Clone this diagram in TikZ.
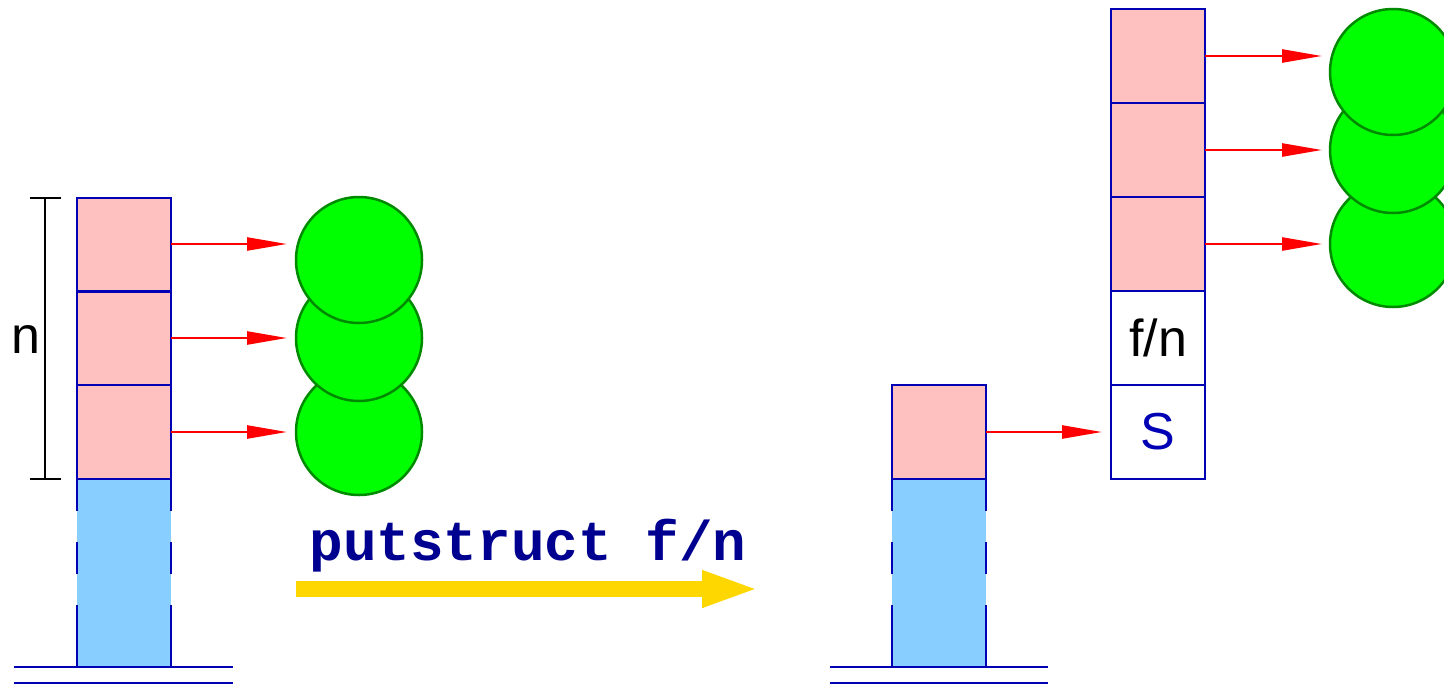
\documentclass[tikz,border=0pt]{standalone}
\usepackage{fontspec}
\setmainfont{Liberation Sans}
\newfontfamily\monob{Liberation Mono}
\usetikzlibrary{arrows.meta}
\definecolor{cellpink}{HTML}{FFC0C0}
\definecolor{cellblue}{HTML}{88CEFF}
\definecolor{strokeblue}{HTML}{0000B4}
\definecolor{ballgreen}{HTML}{00FF00}
\definecolor{balledge}{HTML}{008A00}
\definecolor{gold}{HTML}{FFD700}
\definecolor{navy}{HTML}{000090}
\tikzset{
  cell/.style={draw=strokeblue, line width=1.25pt, fill=cellpink, minimum width=47pt, minimum height=47pt, inner sep=0pt, outer sep=0pt, anchor=north west},
  wcell/.style={cell, fill=white},
  ball/.style={circle, draw=balledge, fill=ballgreen, line width=1.25pt, minimum size=63pt, inner sep=0pt},
  ptr/.style={draw=red, line width=1.2pt, -{Triangle[length=20pt,width=6.5pt]}},
  base/.style={draw=strokeblue, line width=1.25pt},
  side/.style={draw=strokeblue, line width=1.25pt},
  lbl/.style={font=\fontsize{26}{30}\selectfont, inner sep=0pt},
}
\begin{document}
\begin{tikzpicture}[x=0.5pt, y=-0.5pt]
\useasboundingbox (0,0) rectangle (1444,685);
% ---------- left stack ----------
\fill[cellblue] (77,479) rectangle (171,667);
\foreach \xx in {77,171}{
  \draw[side] (\xx,479) -- (\xx,511);
  \draw[side] (\xx,542) -- (\xx,574);
  \draw[side] (\xx,605) -- (\xx,667);
}
\draw[base] (77,667) -- (171,667);
\node[cell] (L1) at (77,198) {};
\node[cell] (L2) at (77,291.5) {};
\node[cell] (L3) at (77,385) {};
\draw[base] (14,667) -- (233,667);
\draw[base] (14,683) -- (233,683);
% bracket
\coordinate (bt) at (45,198);
\coordinate (bb) at (45,479);
\draw[line width=1.25pt] (bt) -- (bb);
\draw[line width=1.25pt] (30,198) -- (61,198);
\draw[line width=1.25pt] (30,479) -- (61,479);
\node[lbl] (nl) at (26,340) {n};
% balls
\node[ball] (B3) at (359,432) {};
\node[ball] (B2) at (359,338) {};
\node[ball] (B1) at (359,260) {};
\coordinate (t1) at (287,244);
\coordinate (t2) at (287,338);
\coordinate (t3) at (287,432);
\draw[ptr] (L1.east |- t1) -- (t1);
\draw[ptr] (L2.east |- t2) -- (t2);
\draw[ptr] (L3.east |- t3) -- (t3);
% ---------- transition ----------
\node[font=\fontsize{28}{30}\selectfont\monob\bfseries, text=navy, inner sep=0pt] (cmd) at (528,546) {putstruct f/n};
\coordinate (ya) at (296,589);
\coordinate (yb) at (760,589);
\draw[draw=gold, line width=8pt, -{Triangle[length=29pt,width=16.5pt]}] (ya) -- (yb);
% ---------- right small stack ----------
\fill[cellblue] (892,479) rectangle (986,667);
\foreach \xx in {892,986}{
  \draw[side] (\xx,479) -- (\xx,511);
  \draw[side] (\xx,542) -- (\xx,574);
  \draw[side] (\xx,605) -- (\xx,667);
}
\draw[base] (892,667) -- (986,667);
\node[cell] (R1) at (892,385) {};
\draw[base] (830,667) -- (1048,667);
\draw[base] (830,683) -- (1048,683);
% ---------- structure ----------
\node[cell] (S1) at (1111,9) {};
\node[cell] (S2) at (1111,103) {};
\node[cell] (S3) at (1111,197) {};
\node[wcell] (S4) at (1111,291) {};
\node[wcell] (S5) at (1111,385) {};
\node[lbl] at (S4.center) {f/n};
\node[lbl, text=strokeblue] at (S5.center) {S};
\coordinate (u0) at (1102,432);
\draw[ptr] (R1.east |- u0) -- (u0);
\node[ball] (C3) at (1393,244) {};
\node[ball] (C2) at (1393,150) {};
\node[ball] (C1) at (1393,72) {};
\coordinate (u1) at (1322,56);
\coordinate (u2) at (1322,150);
\coordinate (u3) at (1322,244);
\draw[ptr] (S1.east |- u1) -- (u1);
\draw[ptr] (S2.east |- u2) -- (u2);
\draw[ptr] (S3.east |- u3) -- (u3);
\end{tikzpicture}
\end{document}
